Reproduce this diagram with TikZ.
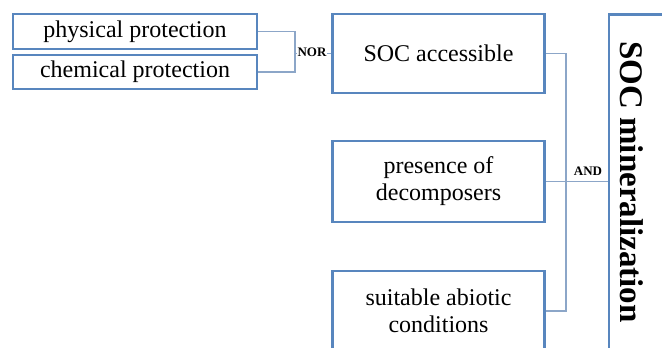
\documentclass[tikz,border=0pt]{standalone}
\usepackage{fontspec}
\setmainfont{Liberation Serif}
\definecolor{boxblue}{RGB}{88,134,190}
\definecolor{lineblue}{RGB}{140,166,200}
\begin{document}
\begin{tikzpicture}[x=1pt,y=-1pt,
  box/.style={draw=boxblue,line width=2.8pt,fill=white,rectangle,inner sep=0pt,
    align=center,font=\fontsize{24}{27}\selectfont},
  conn/.style={draw=lineblue,line width=1.1pt},
  gate/.style={font=\bfseries\fontsize{13}{15}\selectfont,fill=white,inner sep=1pt}]
\useasboundingbox (0,0) rectangle (662,348);
\clip (0,0) rectangle (662,348);
\node[box,minimum width=244pt,minimum height=35pt] (phys) at (135,31.5) {physical protection};
\node[box,minimum width=244pt,minimum height=34pt] (chem) at (135,72) {chemical protection};
\node[box,minimum width=212pt,minimum height=79pt] (socacc) at (438.5,53.5) {SOC accessible};
\node[box,minimum width=212pt,minimum height=81pt] (pres) at (438.5,181.5) {presence of\\decomposers};
\node[box,minimum width=212pt,minimum height=80pt] (suit) at (438.5,311) {suitable abiotic\\conditions};
\node[box,minimum width=90pt,minimum height=345pt] (minbox) at (654,187) {};
\node[font=\bfseries\fontsize{33}{36}\selectfont,rotate=-90] (mintext) at (632,182) {SOC mineralization};
\coordinate (nor) at (295,53.5);
\coordinate (and) at (566,181.5);
\coordinate (mintarget) at (pres.east -| minbox.west);
\draw[conn] (phys.east) -| (nor) |- (chem.east);
\draw[conn] (nor) -- (socacc.west);
\node[gate] (norlabel) at (312,52.5) {NOR};
\draw[conn] (socacc.east) -| (and) |- (suit.east);
\draw[conn] (pres.east) -- (mintarget);
\node[gate,fill=none] (andlabel) at (588,171.5) {AND};
\end{tikzpicture}
\end{document}
